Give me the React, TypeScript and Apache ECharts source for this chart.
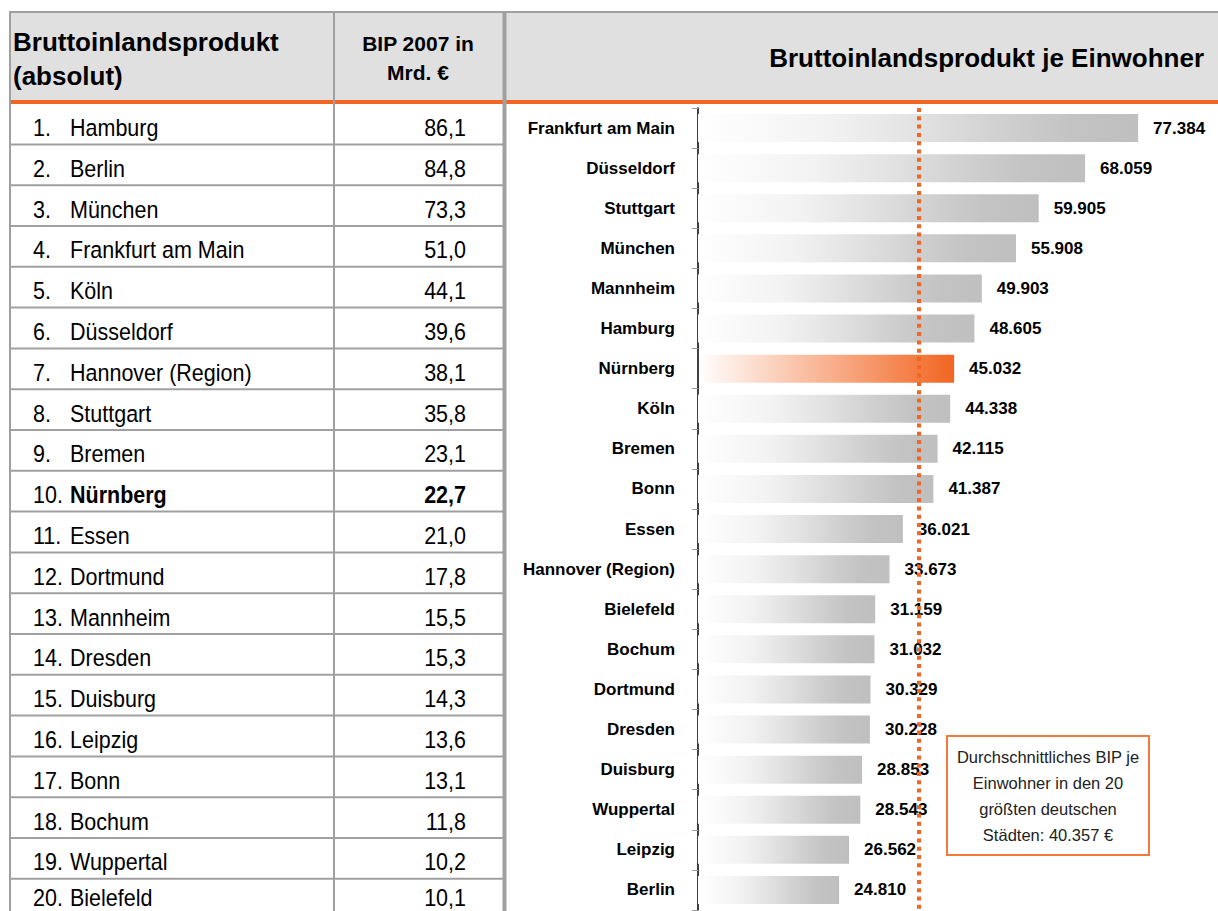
import React, { useEffect, useRef } from "react";
import * as echarts from "echarts";

// ---- data: right chart (BIP je Einwohner, €) ----
const CITIES_PER_CAPITA = [
  "Frankfurt am Main", "Düsseldorf", "Stuttgart", "München", "Mannheim",
  "Hamburg", "Nürnberg", "Köln", "Bremen", "Bonn", "Essen",
  "Hannover (Region)", "Bielefeld", "Bochum", "Dortmund", "Dresden",
  "Duisburg", "Wuppertal", "Leipzig", "Berlin",
];
const GDP_PER_CAPITA = [
  77384, 68059, 59905, 55908, 49903, 48605, 45032, 44338, 42115, 41387, 36021,
  33673, 31159, 31032, 30329, 30228, 28853, 28543, 26562, 24810,
];
const HIGHLIGHT_CITY = "Nürnberg";
const AVERAGE_LINE_VALUE = 38900; // position of dotted line as drawn
const AVERAGE_NOTE = [
  "Durchschnittliches BIP je",
  "Einwohner in den 20",
  "größten deutschen",
  "Städten: 40.357 €",
];

// ---- data: left table (BIP absolut, Mrd. €) ----
const TABLE_CITIES = [
  "Hamburg", "Berlin", "München", "Frankfurt am Main", "Köln", "Düsseldorf",
  "Hannover (Region)", "Stuttgart", "Bremen", "Nürnberg", "Essen", "Dortmund",
  "Mannheim", "Dresden", "Duisburg", "Leipzig", "Bonn", "Bochum", "Wuppertal",
  "Bielefeld",
];
const TABLE_GDP = [
  86.1, 84.8, 73.3, 51.0, 44.1, 39.6, 38.1, 35.8, 23.1, 22.7, 21.0, 17.8, 15.5,
  15.3, 14.3, 13.6, 13.1, 11.8, 10.2, 10.1,
];
const HEADER_LEFT = "Bruttoinlandsprodukt\n(absolut)";
const HEADER_MID = "BIP 2007 in\nMrd. €";
const HEADER_RIGHT = "Bruttoinlandsprodukt je Einwohner";

const FONT = "'Liberation Sans', Arial, Helvetica, sans-serif";
const ORANGE = "#f26522";
const GRID_LINE = "#a0a0a0";

function fmtThousands(v: number): string {
  const s = String(Math.round(v));
  return s.replace(/\B(?=(\d{3})+(?!\d))/g, ".");
}
function fmtDecimal(v: number): string {
  return v.toFixed(1).replace(".", ",");
}

function buildGraphics(): any[] {
  const g: any[] = [];
  const W = 1218;
  // header background
  g.push({ type: "rect", z: 1, shape: { x: 10, y: 12, width: W - 10, height: 88 }, style: { fill: "#e0e0e0" } });
  // top border
  g.push({ type: "line", z: 2, shape: { x1: 10, y1: 12, x2: W, y2: 12 }, style: { stroke: GRID_LINE, lineWidth: 2 } });
  // orange separator
  g.push({ type: "rect", z: 3, shape: { x: 10, y: 100, width: W - 10, height: 4 }, style: { fill: ORANGE } });
  // row separators in the table
  const rowTop0 = 103.6;
  const rowH = 40.8;
  for (let i = 1; i < TABLE_CITIES.length; i++) {
    const y = rowTop0 + rowH * i;
    g.push({ type: "line", z: 2, shape: { x1: 10, y1: y, x2: 503, y2: y }, style: { stroke: GRID_LINE, lineWidth: 2 } });
  }
  // vertical lines
  g.push({ type: "line", z: 4, shape: { x1: 10, y1: 11, x2: 10, y2: 911 }, style: { stroke: GRID_LINE, lineWidth: 2 } });
  g.push({ type: "line", z: 4, shape: { x1: 334, y1: 12, x2: 334, y2: 911 }, style: { stroke: GRID_LINE, lineWidth: 2 } });
  g.push({ type: "line", z: 4, shape: { x1: 504.5, y1: 12, x2: 504.5, y2: 911 }, style: { stroke: GRID_LINE, lineWidth: 4 } });

  // headers
  g.push({
    type: "text", z: 5, x: 13, y: 25,
    style: { text: HEADER_LEFT, fontFamily: FONT, fontWeight: "bold", fontSize: 26, lineHeight: 34, fill: "#000", align: "left", verticalAlign: "top" },
  });
  g.push({
    type: "text", z: 5, x: 418, y: 28.5,
    style: { text: HEADER_MID, fontFamily: FONT, fontWeight: "bold", fontSize: 21, lineHeight: 29, fill: "#000", align: "center", verticalAlign: "top" },
  });
  g.push({
    type: "text", z: 5, x: 1204, y: 58,
    style: { text: HEADER_RIGHT, fontFamily: FONT, fontWeight: "bold", fontSize: 26, fill: "#000", align: "right", verticalAlign: "middle" },
  });

  // table rows
  TABLE_CITIES.forEach((city, i) => {
    const y = Math.min(rowTop0 + rowH * i + 24.5, 898);
    const bold = city === HIGHLIGHT_CITY ? "bold" : "normal";
    const base = { type: "text", z: 5, y, scaleY: 1.1 };
    g.push({ ...base, x: 33, style: { text: `${i + 1}.`, fontFamily: FONT, fontSize: 21.5, fill: "#000", align: "left", verticalAlign: "middle" } });
    g.push({ ...base, x: 70, style: { text: city, fontFamily: FONT, fontWeight: bold, fontSize: 21.5, fill: "#000", align: "left", verticalAlign: "middle" } });
    g.push({ ...base, x: 466, style: { text: fmtDecimal(TABLE_GDP[i]), fontFamily: FONT, fontWeight: bold, fontSize: 21.5, fill: "#000", align: "right", verticalAlign: "middle" } });
  });

  // annotation box
  g.push({ type: "rect", z: 50, shape: { x: 947, y: 736, width: 202, height: 119 }, style: { fill: "#fff", stroke: "#f47a3c", lineWidth: 2 } });
  g.push({
    type: "text", z: 51, x: 1048, y: 744,
    style: { text: AVERAGE_NOTE.join("\n"), fontFamily: FONT, fontSize: 16.5, lineHeight: 26, fill: "#222", align: "center", verticalAlign: "top" },
  });
  return g;
}

const grayGradient = {
  type: "linear", x: 0, y: 0, x2: 1, y2: 0,
  colorStops: [
    { offset: 0, color: "#ffffff" },
    { offset: 0.3, color: "#f2f2f2" },
    { offset: 0.5, color: "#e2e2e2" },
    { offset: 0.7, color: "#cfcfcf" },
    { offset: 0.85, color: "#c3c3c3" },
    { offset: 1, color: "#bfbfbf" },
  ],
};
const orangeGradient = {
  type: "linear", x: 0, y: 0, x2: 1, y2: 0,
  colorStops: [
    { offset: 0, color: "rgba(242,101,34,0)" },
    { offset: 1, color: ORANGE },
  ],
};

export default function App() {
  const ref = useRef<HTMLDivElement>(null);
  useEffect(() => {
    if (!ref.current) return;
    const chart = echarts.init(ref.current, null, { renderer: "svg" });
    const option: any = {
      animation: false,
      backgroundColor: "#ffffff",
      grid: { left: 698, right: 65, top: 108, height: 802, containLabel: false },
      xAxis: { type: "value", min: 0, max: 80000, show: false, splitLine: { show: false } },
      yAxis: {
        type: "category",
        inverse: true,
        data: CITIES_PER_CAPITA,
        axisLine: { show: true, lineStyle: { color: "#000", width: 1.5 } },
        axisTick: { show: true, length: 6, lineStyle: { color: "#999", width: 1 } },
        axisLabel: { fontFamily: FONT, fontWeight: "bold", fontSize: 17, color: "#000", margin: 23 },
      },
      series: [
        {
          type: "bar",
          barWidth: 28,
          data: GDP_PER_CAPITA.map((v, i) => ({
            value: v,
            itemStyle: { color: CITIES_PER_CAPITA[i] === HIGHLIGHT_CITY ? orangeGradient : grayGradient },
          })),
          label: {
            show: true,
            position: "right",
            distance: 15,
            fontFamily: FONT,
            fontWeight: "bold",
            fontSize: 17,
            color: "#000",
            formatter: (p: any) => fmtThousands(p.value),
          },
          markLine: {
            silent: true,
            symbol: ["none", "none"],
            label: { show: false },
            lineStyle: { color: ORANGE, width: 4, type: [4, 4.3], opacity: 1 },
            data: [{ xAxis: AVERAGE_LINE_VALUE }],
          },
        },
      ],
      graphic: { elements: buildGraphics() },
    };
    chart.setOption(option);
    return () => chart.dispose();
  }, []);
  return (
    <div
      ref={ref}
      style={{ position: "absolute", left: 0, top: 0, width: 1218, height: 911 }}
    />
  );
}
